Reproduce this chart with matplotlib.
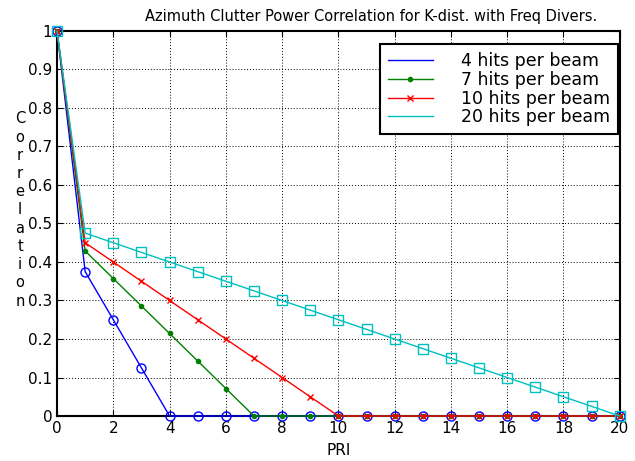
import matplotlib
matplotlib.use("Agg")
import matplotlib.pyplot as plt
from matplotlib.lines import Line2D

plt.rcParams['font.family'] = ['DejaVu Sans']

pri = list(range(0, 21))
hits4 = [1, 0.375, 0.25, 0.125] + [0] * 17
hits7 = [1, 0.4286, 0.3571, 0.2857, 0.2143, 0.1429, 0.0714] + [0] * 14
hits10 = [1, 0.45, 0.40, 0.35, 0.30, 0.25, 0.20, 0.15, 0.10, 0.05] + [0] * 11
hits20 = [1, 0.475, 0.45, 0.425, 0.40, 0.375, 0.35, 0.325, 0.30, 0.275, 0.25,
          0.225, 0.20, 0.175, 0.15, 0.125, 0.10, 0.075, 0.05, 0.025, 0]
labels = ["4 hits per beam", "7 hits per beam", "10 hits per beam", "20 hits per beam"]
xticks = list(range(0, 21, 2))
yticks = [0, 0.1, 0.2, 0.3, 0.4, 0.5, 0.6, 0.7, 0.8, 0.9, 1]
yticklabels = ["0", "0.1", "0.2", "0.3", "0.4", "0.5", "0.6", "0.7", "0.8", "0.9", "1"]

fig = plt.figure(figsize=(6.35, 4.61), dpi=100)
ax = fig.add_axes([0.0898, 0.0976, 0.8862, 0.8352])

c_blue, c_green, c_red, c_cyan = '#0000ff', '#008000', '#ff0000', '#00bfbf'

ax.plot(pri, hits4, color=c_blue, lw=1, marker='o', ms=6.5, mfc='none', mec=c_blue, mew=1, clip_on=False, zorder=3)
ax.plot(pri, hits7, color=c_green, lw=1, marker='o', ms=3, mfc=c_green, mec=c_green, clip_on=False, zorder=3)
ax.plot(pri, hits10, color=c_red, lw=1, marker='x', ms=4.5, mew=1, clip_on=False, zorder=3)
ax.plot(pri, hits20, color=c_cyan, lw=1, marker='s', ms=6.5, mfc='none', mec=c_cyan, mew=1, clip_on=False, zorder=3)

ax.set_xlim(0, 20)
ax.set_ylim(0, 1)
ax.set_xticks(xticks)
ax.set_yticks(yticks)
ax.set_yticklabels(yticklabels)
ax.tick_params(direction='in', top=True, right=True, labelsize=11, length=4, width=0.8)
ax.grid(True, linestyle=(0, (1, 2)), color='black', linewidth=0.7)
for s in ax.spines.values():
    s.set_linewidth(1.5)

ax.set_xlabel("PRI", fontsize=11, labelpad=5)
fig.text(20 / 635, 1 - 210 / 461, "C\no\nr\nr\ne\nl\na\nt\ni\no\nn", fontsize=10.5,
         ha='center', va='center', linespacing=1.27)
fig.text(371 / 635, 1 - 16 / 461, "Azimuth Clutter Power Correlation for K-dist. with Freq Divers.",
         fontsize=10.5, ha='center', va='center')

handles = [
    Line2D([], [], color=c_blue, lw=1),
    Line2D([], [], color=c_green, lw=1, marker='o', ms=3),
    Line2D([], [], color=c_red, lw=1, marker='x', ms=4.5),
    Line2D([], [], color=c_cyan, lw=1),
]
leg = ax.legend(handles, labels, loc='upper right', bbox_to_anchor=(0.9964, 0.966),
                fontsize=12.5, frameon=True, fancybox=False, handlelength=2.6,
                handletextpad=1.6, labelspacing=0.05, borderpad=0.45, borderaxespad=0)
leg.get_frame().set_edgecolor('black')
leg.get_frame().set_linewidth(1.5)
leg.get_frame().set_alpha(1)

fig.savefig("out.png", dpi=100)
